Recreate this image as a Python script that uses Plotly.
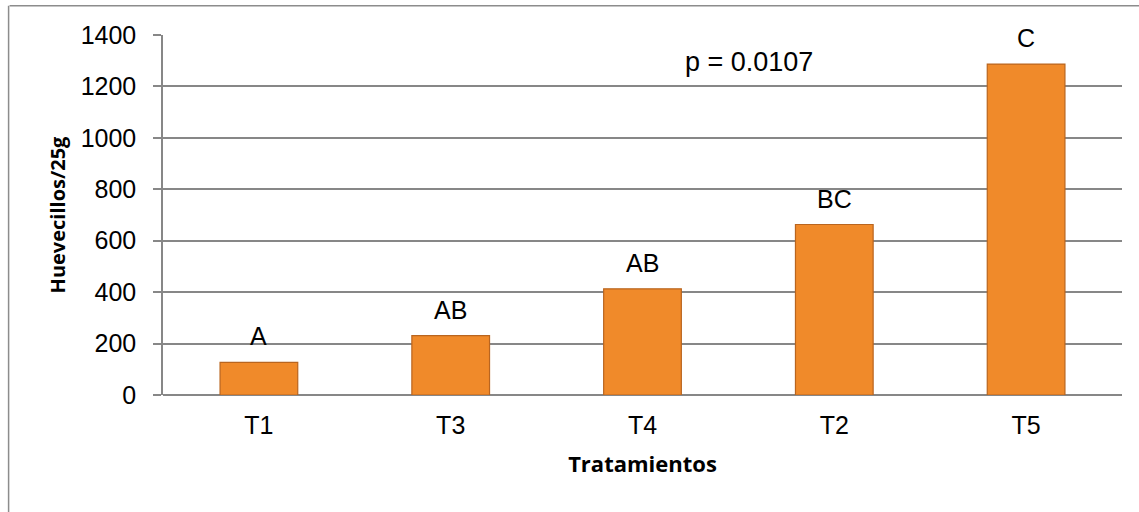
import plotly.graph_objects as go

# Treatment means (eggs per 25 g), ordered from lowest to highest
tratamientos = ["T1", "T3", "T4", "T2", "T5"]
huevecillos = [127, 231, 413, 663, 1287]
letras = ["A", "AB", "AB", "BC", "C"]
y_ticks = [0, 200, 400, 600, 800, 1000, 1200, 1400]

BAR_FILL = "#F08A2A"
BAR_EDGE = "#B9651F"
GRID = "#878787"
TXT_FONT = "Liberation Sans, Arial, sans-serif"
TITLE_FONT = "Open Sans, Carlito, Calibri, sans-serif"

fig = go.Figure()
fig.add_trace(go.Bar(
    x=tratamientos,
    y=huevecillos,
    width=0.405,
    marker=dict(color=BAR_FILL, line=dict(color=BAR_EDGE, width=1.2)),
    hoverinfo="x+y",
))

# Significance letters above each bar
annotations = [
    dict(x=t, y=v, text=l, showarrow=False, xref="x", yref="y",
         yshift=26, font=dict(family=TXT_FONT, size=25, color="#000000"))
    for t, v, l in zip(tratamientos, huevecillos, letras)
]
annotations.append(dict(
    x=0.611, y=0.926, xref="paper", yref="paper", text="p = 0.0107",
    xanchor="center", yanchor="middle",
    showarrow=False, font=dict(family=TXT_FONT, size=27, color="#000000"),
))

fig.update_layout(
    width=1139, height=512,
    margin=dict(l=163, r=17, t=34.5, b=116.7),
    paper_bgcolor="white", plot_bgcolor="white",
    showlegend=False,
    bargap=0.6,
    annotations=annotations,
    xaxis=dict(
        type="category",
        showgrid=False,
        showline=False,
        ticks="",
        tickfont=dict(family=TXT_FONT, size=25, color="#000000"),
        ticklabelstandoff=13,
        title=dict(text="<b>Tratamientos</b>",
                   font=dict(family=TITLE_FONT, size=22, color="#000000"),
                   standoff=18),
    ),
    yaxis=dict(
        range=[0, 1400],
        tickvals=y_ticks,
        showgrid=True, gridcolor=GRID, gridwidth=1.5,
        zeroline=True, zerolinecolor=GRID, zerolinewidth=1.5,
        showline=True, linecolor=GRID, linewidth=1.5,
        ticks="outside", ticklen=8, tickcolor=GRID, tickwidth=1.5,
        tickfont=dict(family=TXT_FONT, size=25, color="#000000"),
        ticklabelstandoff=12,
        title=dict(text="<b>Huevecillos/25g</b>",
                   font=dict(family=TITLE_FONT, size=20, color="#000000"),
                   standoff=10),
    ),
    shapes=[
        # outer chart frame (left and top edges)
        dict(type="line", xref="paper", yref="paper", layer="below",
             x0=-0.16, x1=1.1, y0=1.081, y1=1.081,
             line=dict(color="#8C8C8C", width=1.5)),
        dict(type="line", xref="paper", yref="paper", layer="below",
             x0=-0.161, x1=-0.161, y0=-0.35, y1=1.081,
             line=dict(color="#8C8C8C", width=1.5)),
    ],
)

fig.write_html("out.html")
